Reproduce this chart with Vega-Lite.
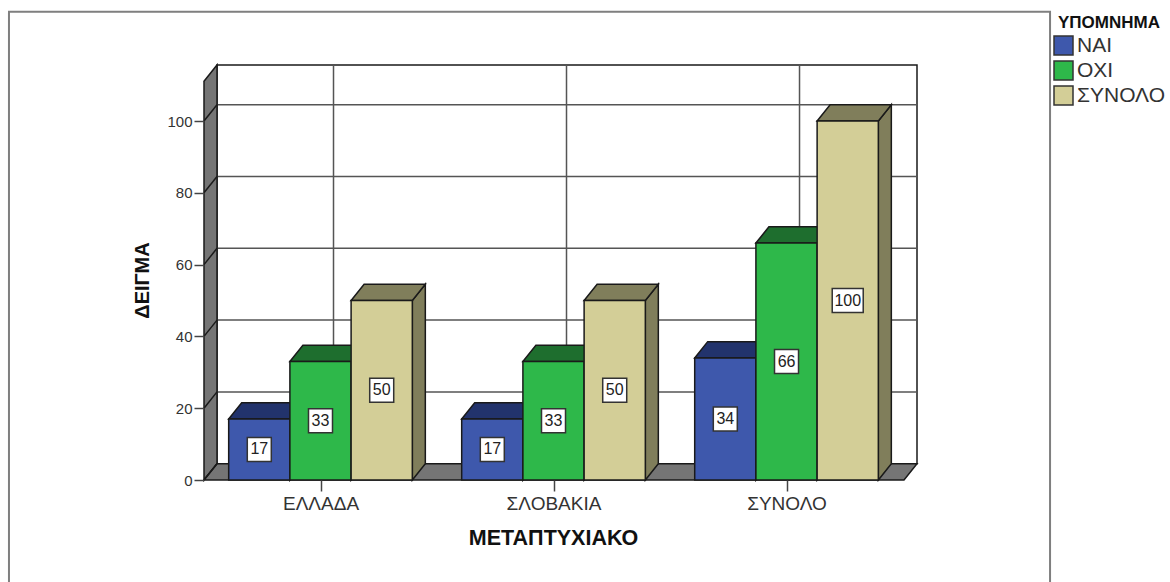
{
  "$schema": "https://vega.github.io/schema/vega-lite/v6.json",
  "autosize": "none",
  "padding": {"left": 204, "top": 65, "right": 253, "bottom": 102},
  "width": 713,
  "height": 415,
  "background": "white",
  "config": {"view": {"stroke": null}, "font": "Liberation Sans"},
  "params": [
    {"name": "dx", "value": 0.0558},
    {"name": "dy", "value": 4.54},
    {"name": "bw", "value": 0.2627},
    {"name": "xmin", "value": 0.5},
    {"name": "xmax", "value": 3.56},
    {"name": "ymax", "value": 115.6}
  ],
  "datasets": {
    "bars": [
      {"group": "ΕΛΛΑΔΑ", "series": "ΝΑΙ", "value": 17},
      {"group": "ΕΛΛΑΔΑ", "series": "ΟΧΙ", "value": 33},
      {"group": "ΕΛΛΑΔΑ", "series": "ΣΥΝΟΛΟ", "value": 50},
      {"group": "ΣΛΟΒΑΚΙΑ", "series": "ΝΑΙ", "value": 17},
      {"group": "ΣΛΟΒΑΚΙΑ", "series": "ΟΧΙ", "value": 33},
      {"group": "ΣΛΟΒΑΚΙΑ", "series": "ΣΥΝΟΛΟ", "value": 50},
      {"group": "ΣΥΝΟΛΟ", "series": "ΝΑΙ", "value": 34},
      {"group": "ΣΥΝΟΛΟ", "series": "ΟΧΙ", "value": 66},
      {"group": "ΣΥΝΟΛΟ", "series": "ΣΥΝΟΛΟ", "value": 100}
    ],
    "ticks": [{"v": 0}, {"v": 20}, {"v": 40}, {"v": 60}, {"v": 80}, {"v": 100}],
    "cats": [{"c": 1}, {"c": 2}, {"c": 3}],
    "one": [{"k": "a"}]
  },
  "resolve": {"legend": {"color": "independent", "fill": "independent"}},
  "layer": [
    {
      "data": {"name": "one"},
      "mark": {"type": "rect", "fill": "white", "stroke": "#7f7f7f", "strokeWidth": 2},
      "encoding": {
        "x": {
          "datum": -0.337, "type": "quantitative",
          "scale": {"domain": [0.5, 3.56], "nice": false, "zero": false},
          "axis": {
            "zindex": 1,
            "values": [1, 2, 3],
            "labelExpr": "['ΕΛΛΑΔΑ','ΣΛΟΒΑΚΙΑ','ΣΥΝΟΛΟ'][datum.value-1]",
            "domain": false, "grid": false, "tickSize": 11, "tickWidth": 1.5, "tickColor": "#444444",
            "labelFontSize": 19, "labelColor": "#333333", "labelPadding": 3, "labelFlush": false, "labelOverlap": false,
            "title": "ΜΕΤΑΠΤΥΧΙΑΚΟ", "titleFontSize": 21.5, "titleFontWeight": "bold", "titleColor": "#111111",
            "titleX": 349, "titleY": 47
          }
        },
        "x2": {"datum": 4.131},
        "y": {
          "datum": 130.4, "type": "quantitative",
          "scale": {"domain": [0, 115.6], "nice": false, "zero": false},
          "axis": {
            "zindex": 1,
            "values": [0, 20, 40, 60, 80, 100],
            "domain": false, "grid": false, "tickSize": 10, "tickWidth": 1.5, "tickColor": "#444444",
            "labelFontSize": 15, "labelColor": "#333333", "labelPadding": 2,
            "title": "ΔΕΙΓΜΑ", "titleFontSize": 20, "titleFontWeight": "bold", "titleColor": "#111111",
            "titleX": -52, "titleY": 215
          }
        },
        "y2": {"datum": -40}
      }
    },
    {
      "data": {"name": "one"},
      "transform": [
        {"calculate": "xmin+dx", "as": "a"},
        {"calculate": "xmax", "as": "b"},
        {"calculate": "dy", "as": "c"},
        {"calculate": "ymax", "as": "d"}
      ],
      "mark": {"type": "rect", "fill": "white", "stroke": "#1a1a1a", "strokeWidth": 1.5},
      "encoding": {
        "x": {"field": "a", "type": "quantitative"},
        "x2": {"field": "b"},
        "y": {"field": "c", "type": "quantitative"},
        "y2": {"field": "d"}
      }
    },
    {
      "data": {"name": "ticks"},
      "transform": [
        {"filter": "datum.v > 0"},
        {"calculate": "xmin+dx", "as": "a"},
        {"calculate": "xmax", "as": "b"},
        {"calculate": "datum.v+dy", "as": "c"}
      ],
      "mark": {"type": "rule", "stroke": "#555555", "strokeWidth": 1.5},
      "encoding": {
        "x": {"field": "a", "type": "quantitative"},
        "x2": {"field": "b"},
        "y": {"field": "c", "type": "quantitative"}
      }
    },
    {
      "data": {"name": "cats"},
      "transform": [
        {"calculate": "datum.c+dx", "as": "a"},
        {"calculate": "dy", "as": "c0"},
        {"calculate": "ymax", "as": "c1"}
      ],
      "mark": {"type": "rule", "stroke": "#555555", "strokeWidth": 1.5},
      "encoding": {
        "x": {"field": "a", "type": "quantitative"},
        "y": {"field": "c0", "type": "quantitative"},
        "y2": {"field": "c1"}
      }
    },
    {
      "data": {"name": "one"},
      "transform": [
        {"calculate": "[xmin, xmin+dx]", "as": "px"},
        {"calculate": "[ymax-dy, ymax]", "as": "py"},
        {"calculate": "[0, dy]", "as": "py2"},
        {"flatten": ["px", "py", "py2"]}
      ],
      "mark": {"type": "area", "fill": "#757575", "stroke": "#1a1a1a", "strokeWidth": 1.5, "orient": "vertical"},
      "encoding": {
        "x": {"field": "px", "type": "quantitative"},
        "y": {"field": "py", "type": "quantitative", "stack": null},
        "y2": {"field": "py2"}
      }
    },
    {
      "data": {"name": "one"},
      "transform": [
        {"calculate": "[xmin, xmin+dx, xmax-dx, xmax]", "as": "px"},
        {"calculate": "[0, dy, dy, dy]", "as": "py"},
        {"calculate": "[0, 0, 0, dy]", "as": "py2"},
        {"flatten": ["px", "py", "py2"]}
      ],
      "mark": {"type": "area", "fill": "#757575", "stroke": "#1a1a1a", "strokeWidth": 1.5, "orient": "vertical"},
      "encoding": {
        "x": {"field": "px", "type": "quantitative"},
        "y": {"field": "py", "type": "quantitative", "stack": null},
        "y2": {"field": "py2"}
      }
    },
    {
      "data": {"name": "ticks"},
      "transform": [
        {"calculate": "xmin", "as": "a"},
        {"calculate": "xmin+dx", "as": "b"},
        {"calculate": "datum.v+dy", "as": "c"}
      ],
      "mark": {"type": "rule", "stroke": "#1a1a1a", "strokeWidth": 1.5},
      "encoding": {
        "x": {"field": "a", "type": "quantitative"},
        "x2": {"field": "b"},
        "y": {"field": "v", "type": "quantitative"},
        "y2": {"field": "c"}
      }
    },
    {
      "data": {"name": "bars"},
      "transform": [
        {"calculate": "indexof(['ΕΛΛΑΔΑ','ΣΛΟΒΑΚΙΑ','ΣΥΝΟΛΟ'], datum.group)+1", "as": "g"},
        {"calculate": "indexof(['ΝΑΙ','ΟΧΙ','ΣΥΝΟΛΟ'], datum.series)", "as": "s"},
        {"calculate": "datum.g+(datum.s-1.5)*bw", "as": "x0"},
        {"calculate": "datum.x0+bw", "as": "x1"},
        {"calculate": "datum.group+datum.series", "as": "id"},
        {"calculate": "[datum.x1, datum.x1+dx]", "as": "px"},
        {"calculate": "[datum.value, datum.value+dy]", "as": "py"},
        {"calculate": "[0, dy]", "as": "py2"},
        {"flatten": ["px", "py", "py2"]}
      ],
      "mark": {"type": "area", "stroke": "#1a1a1a", "strokeWidth": 1.5, "orient": "vertical"},
      "encoding": {
        "x": {"field": "px", "type": "quantitative"},
        "y": {"field": "py", "type": "quantitative", "stack": null},
        "y2": {"field": "py2"},
        "detail": {"field": "id"},
        "fill": {"field": "series", "type": "nominal", "scale": {"domain": ["ΝΑΙ", "ΟΧΙ", "ΣΥΝΟΛΟ"], "range": ["#22336c", "#1e6e2e", "#807e5b"]}, "legend": null}
      }
    },
    {
      "data": {"name": "bars"},
      "transform": [
        {"calculate": "indexof(['ΕΛΛΑΔΑ','ΣΛΟΒΑΚΙΑ','ΣΥΝΟΛΟ'], datum.group)+1", "as": "g"},
        {"calculate": "indexof(['ΝΑΙ','ΟΧΙ','ΣΥΝΟΛΟ'], datum.series)", "as": "s"},
        {"calculate": "datum.g+(datum.s-1.5)*bw", "as": "x0"},
        {"calculate": "datum.x0+bw", "as": "x1"},
        {"calculate": "datum.group+datum.series", "as": "id"},
        {"calculate": "[datum.x0, datum.x0+dx, datum.x1, datum.x1+dx]", "as": "px"},
        {"calculate": "[datum.value, datum.value+dy, datum.value+dy, datum.value+dy]", "as": "py"},
        {"calculate": "[datum.value, datum.value, datum.value, datum.value+dy]", "as": "py2"},
        {"flatten": ["px", "py", "py2"]}
      ],
      "mark": {"type": "area", "stroke": "#1a1a1a", "strokeWidth": 1.5, "orient": "vertical"},
      "encoding": {
        "x": {"field": "px", "type": "quantitative"},
        "y": {"field": "py", "type": "quantitative", "stack": null},
        "y2": {"field": "py2"},
        "detail": {"field": "id"},
        "fill": {"field": "series", "type": "nominal", "legend": null}
      }
    },
    {
      "data": {"name": "bars"},
      "transform": [
        {"calculate": "indexof(['ΕΛΛΑΔΑ','ΣΛΟΒΑΚΙΑ','ΣΥΝΟΛΟ'], datum.group)+1", "as": "g"},
        {"calculate": "indexof(['ΝΑΙ','ΟΧΙ','ΣΥΝΟΛΟ'], datum.series)", "as": "s"},
        {"calculate": "datum.g+(datum.s-1.5)*bw", "as": "x0"},
        {"calculate": "datum.x0+bw", "as": "x1"}
      ],
      "mark": {"type": "rect", "stroke": "#1a1a1a", "strokeWidth": 1.5},
      "encoding": {
        "x": {"field": "x0", "type": "quantitative"},
        "x2": {"field": "x1"},
        "y": {"field": "value", "type": "quantitative"},
        "y2": {"datum": 0},
        "color": {
          "field": "series", "type": "nominal",
          "scale": {"domain": ["ΝΑΙ", "ΟΧΙ", "ΣΥΝΟΛΟ"], "range": ["#3e58ac", "#2eb84a", "#d3ce97"]},
          "legend": {
            "orient": "none", "legendX": 849, "legendY": -50,
            "title": "ΥΠΟΜΝΗΜΑ", "titleFontSize": 17, "titleFontWeight": "bold", "titleColor": "#111111", "titlePadding": 3, "titleAnchor": "middle",
            "symbolType": "square", "symbolSize": 361, "symbolStrokeColor": "#333333", "symbolStrokeWidth": 1.5, "symbolOpacity": 1,
            "labelFontSize": 21, "labelColor": "#333333", "labelOffset": 3, "rowPadding": 0, "padding": 0
          }
        }
      }
    },
    {
      "data": {"name": "bars"},
      "transform": [
        {"filter": "datum.value < 100"},
        {"calculate": "indexof(['ΕΛΛΑΔΑ','ΣΛΟΒΑΚΙΑ','ΣΥΝΟΛΟ'], datum.group)+1", "as": "g"},
        {"calculate": "indexof(['ΝΑΙ','ΟΧΙ','ΣΥΝΟΛΟ'], datum.series)", "as": "s"},
        {"calculate": "datum.g+(datum.s-1)*bw", "as": "xc"},
        {"calculate": "datum.value/2", "as": "yc"}
      ],
      "mark": {"type": "rect", "width": 24, "height": 24, "fill": "white", "stroke": "#333333", "strokeWidth": 1.5},
      "encoding": {
        "x": {"field": "xc", "type": "quantitative"},
        "y": {"field": "yc", "type": "quantitative"}
      }
    },
    {
      "data": {"name": "bars"},
      "transform": [
        {"filter": "datum.value >= 100"},
        {"calculate": "indexof(['ΕΛΛΑΔΑ','ΣΛΟΒΑΚΙΑ','ΣΥΝΟΛΟ'], datum.group)+1", "as": "g"},
        {"calculate": "indexof(['ΝΑΙ','ΟΧΙ','ΣΥΝΟΛΟ'], datum.series)", "as": "s"},
        {"calculate": "datum.g+(datum.s-1)*bw", "as": "xc"},
        {"calculate": "datum.value/2", "as": "yc"}
      ],
      "mark": {"type": "rect", "width": 31, "height": 24, "fill": "white", "stroke": "#333333", "strokeWidth": 1.5},
      "encoding": {
        "x": {"field": "xc", "type": "quantitative"},
        "y": {"field": "yc", "type": "quantitative"}
      }
    },
    {
      "data": {"name": "bars"},
      "transform": [
        {"calculate": "indexof(['ΕΛΛΑΔΑ','ΣΛΟΒΑΚΙΑ','ΣΥΝΟΛΟ'], datum.group)+1", "as": "g"},
        {"calculate": "indexof(['ΝΑΙ','ΟΧΙ','ΣΥΝΟΛΟ'], datum.series)", "as": "s"},
        {"calculate": "datum.g+(datum.s-1)*bw", "as": "xc"},
        {"calculate": "datum.value/2", "as": "yc"}
      ],
      "mark": {"type": "text", "fontSize": 16, "fill": "#222222", "align": "center", "baseline": "middle"},
      "encoding": {
        "x": {"field": "xc", "type": "quantitative"},
        "y": {"field": "yc", "type": "quantitative"},
        "text": {"field": "value", "type": "quantitative"}
      }
    }
  ]
}
